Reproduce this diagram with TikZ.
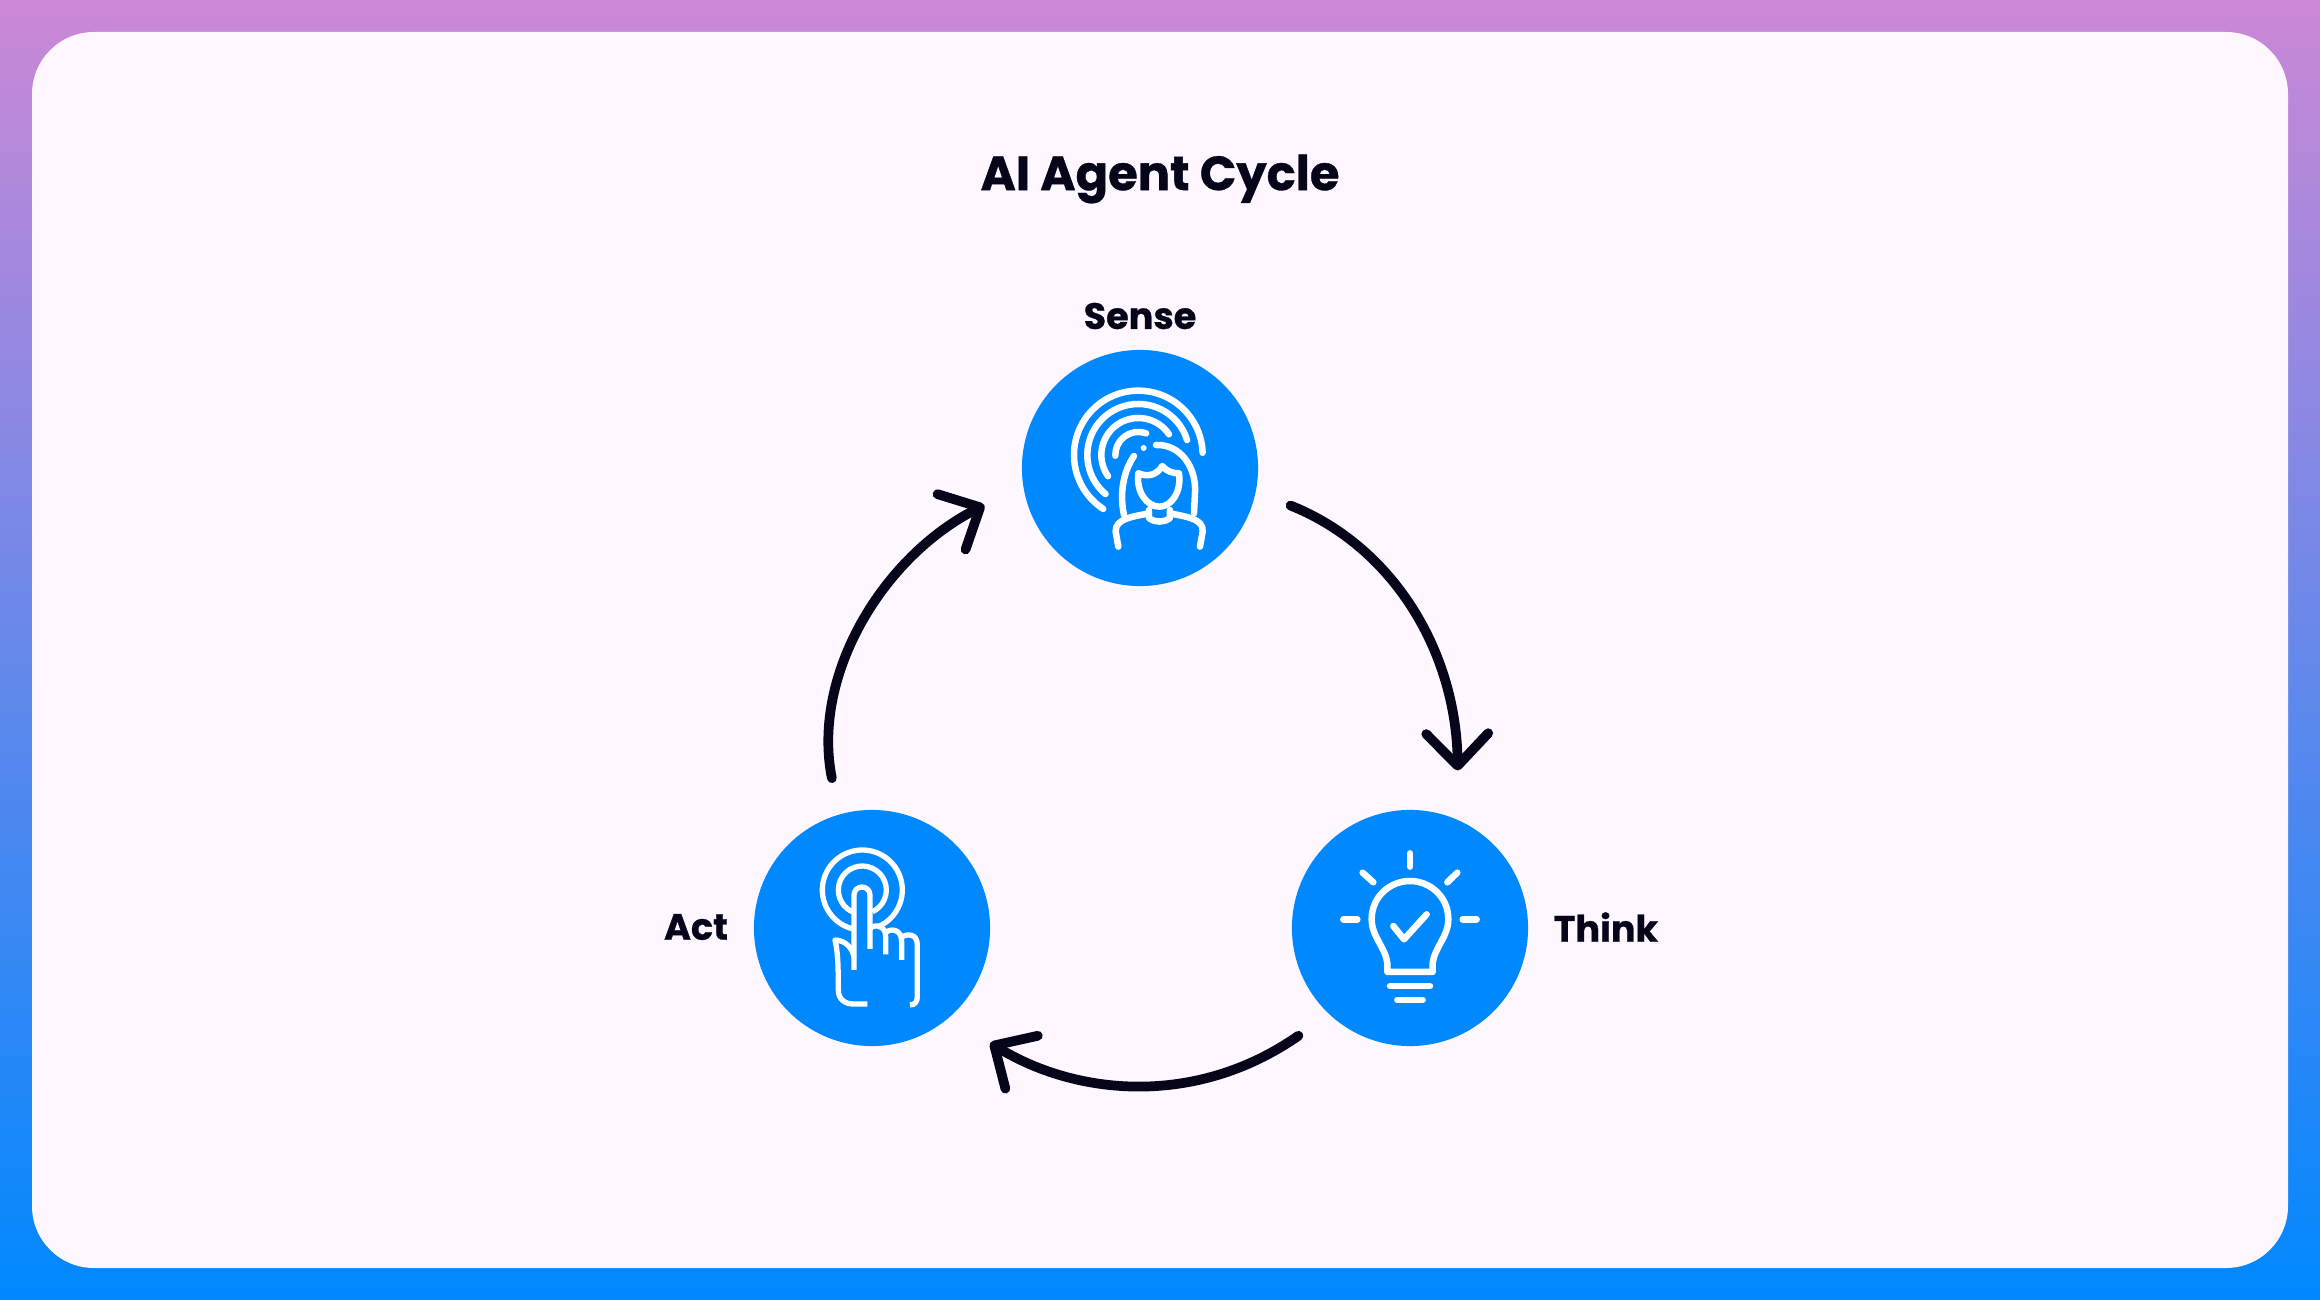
\documentclass[tikz,border=0pt]{standalone}
\usepackage{fontspec}
\setmainfont{Poppins}[BoldFeatures={FakeBold=0.7}]
\usetikzlibrary{arrows.meta}
\definecolor{hubblue}{HTML}{0088FF}
\definecolor{topmauve}{HTML}{CC88D6}
\definecolor{cardbg}{HTML}{FEF7FF}
\definecolor{inkdark}{HTML}{06051A}
\tikzset{hub/.style={circle, fill=hubblue, minimum size=2.36cm, inner sep=0pt, outer sep=.37cm}}
\tikzset{arr/.style={draw=inkdark, line width=.097cm, line cap=round, line join=round, shorten >=.1cm, -{Straight Barb[round, length=.32cm, width=.62cm]}}}
\tikzset{lbl/.style={text=inkdark, inner sep=0pt, font=\fontsize{10.4pt}{12pt}\selectfont\bfseries}}
\tikzset{glyph/.style={draw=white, line width=.065cm, line cap=round, line join=round}}
\begin{document}
\begin{tikzpicture}[x=.01cm,y=.01cm]
		\useasboundingbox (0,0) rectangle (2320,-1300);
		\shade[top color=topmauve, bottom color=hubblue, shading angle=0] (0,0) rectangle (2320,-1300);
		\fill[cardbg, rounded corners=.62cm] (32,-32) rectangle (2288,-1268);
		
		\node[text=inkdark, inner sep=0pt, font=\fontsize{13.65pt}{16pt}\selectfont\bfseries] (title) at (1160,-179){AI Agent Cycle};
		
		\node[hub] (Sense) at (1140,-468){};
		\node[hub] (Think) at (1410,-928){};
		\node[hub] (Act) at (872,-928){};
		
		\node[lbl] (SenseLbl) at (1140,-316){Sense};
		\node[lbl] (ThinkLbl) at (1606,-927){Think};
		\node[lbl] (ActLbl) at (696,-927){Act};
		
		\draw[arr] (Sense.-14.3) .. controls (1392,-546) and (1456,-650) .. (Think.72.5);
		\draw[arr] (Think.-136.3) .. controls (1195,-1108) and (1075,-1095) .. (Act.-45);
		\draw[arr, shorten >=.05cm] (Act.105.9) .. controls (811,-674) and (884,-556) .. (Sense.193.6);
		
		% sense icon
		\begin{scope}[shift={(1000,-340)},scale=.3333]
			\draw[glyph] (415,-345) ++(2:193) arc[start angle=2, end angle=237, radius=193];
			\draw[glyph] (415,-345) ++(17:153) arc[start angle=17, end angle=230, radius=153];
			\draw[glyph] (415,-345) ++(34:111) arc[start angle=34, end angle=215, radius=111];
			\draw[glyph] (415,-345) ++(70:69) arc[start angle=70, end angle=182, radius=69];
			\fill[white] (431,-324) circle (9);
			\draw[glyph] (468,-315) .. controls (540,-312) and (590,-380) .. (585,-460) -- (582,-520);
			\draw[glyph] (402,-348) .. controls (370,-395) and (358,-460) .. (372,-525);
			\draw[glyph] (415,-400) .. controls (445,-412) and (470,-405) .. (487,-378) .. controls (500,-395) and (520,-400) .. (537,-400) .. controls (545,-455) and (515,-500) .. (478,-500) .. controls (440,-500) and (408,-455) .. (415,-400);
			\draw[glyph] (447,-510) -- (447,-535) .. controls (465,-548) and (492,-548) .. (510,-535) -- (510,-510);
			\draw[glyph] (447,-520) .. controls (400,-530) and (345,-535) .. (347,-575) -- (355,-620);
			\draw[glyph] (510,-520) .. controls (555,-530) and (612,-535) .. (608,-575) -- (600,-620);
		\end{scope}
		
		% think icon
		\begin{scope}[shift={(1280,-800)},scale=.3333]
			\draw[glyph] (390,-160) -- (390,-200);
			\draw[glyph] (248,-218) -- (280,-247);
			\draw[glyph] (532,-218) -- (502,-247);
			\draw[glyph] (190,-358) -- (232,-358);
			\draw[glyph] (548,-358) -- (590,-358);
			\draw[glyph] (322,-516) -- (322,-490) .. controls (318,-445) and (275,-410) .. (275,-358) .. controls (275,-290) and (330,-243) .. (390,-243) .. controls (450,-243) and (505,-290) .. (505,-358) .. controls (505,-410) and (462,-445) .. (458,-490) -- (458,-516) -- cycle;
			\draw[glyph] (340,-378) -- (372,-418) -- (440,-343);
			\draw[glyph] (330,-558) -- (450,-558);
			\draw[glyph] (352,-600) -- (428,-600);
		\end{scope}
		
		% act icon
		\begin{scope}[shift={(750,-800)},scale=.3333,glyph/.append style={line width=.053cm, line cap=butt}]
			\draw[glyph] (337,-270) ++(256:120) arc[start angle=256, end angle=-68, radius=120];
			\draw[glyph] (337,-270) ++(246:72) arc[start angle=246, end angle=-65, radius=72];
			\draw[glyph] (312,-510) -- (312,-285) arc[start angle=180, end angle=0, radius=24] -- (360,-447);
			\draw[glyph] (360,-385) .. controls (375,-372) and (407,-375) .. (407,-410) -- (407,-463);
			\draw[glyph] (407,-398) .. controls (420,-385) and (455,-385) .. (455,-425) -- (455,-480);
			\draw[glyph] (455,-412) .. controls (470,-400) and (502,-400) .. (502,-435) -- (502,-590) .. controls (502,-605) and (495,-615) .. (480,-615);
			\draw[glyph] (312,-470) .. controls (305,-440) and (285,-422) .. (255,-420) .. controls (262,-450) and (265,-480) .. (265,-570) .. controls (265,-598) and (285,-612) .. (310,-612) -- (352,-612);
		\end{scope}
	\end{tikzpicture}
\end{document}
